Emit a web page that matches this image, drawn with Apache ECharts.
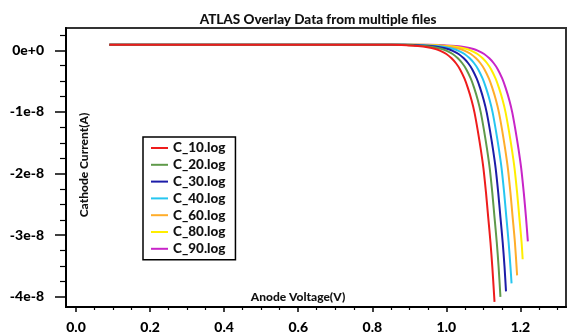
<!DOCTYPE html>
<html>
<head>
<meta charset="utf-8">
<script src="https://cdn.jsdelivr.net/npm/echarts@6/dist/echarts.min.js"></script>
<style>
html,body{margin:0;padding:0;background:#fff;}
#chart{width:568px;height:334px;}
</style>
</head>
<body>
<div id="chart"></div>
<script>
// ---- data: [anode voltage (V), cathode current (units of 1e-8 A)] ----
const seriesNames = ['C_10.log','C_20.log','C_30.log','C_40.log','C_60.log','C_80.log','C_90.log'];
const seriesColors = ['#ee1c1c','#5f9a4a','#1c1ca8','#26c6f0','#ffad2a','#ffee00','#c825c8'];

const c10 = [[0.09,0.09],[0.851,0.089],[0.897,0.08],[0.923,0.07],[0.949,0.05],[0.971,0.02],[0.984,-0.01],[1.000,-0.06],[1.014,-0.13],[1.026,-0.21],[1.037,-0.31],[1.049,-0.46],[1.058,-0.61],[1.068,-0.81],[1.076,-1.01],[1.085,-1.31],[1.093,-1.61],[1.100,-1.91],[1.107,-2.31],[1.113,-2.71],[1.119,-3.11],[1.124,-3.51],[1.130,-4.08]];
const c20 = [[0.09,0.09],[0.868,0.089],[0.914,0.08],[0.940,0.07],[0.966,0.05],[0.988,0.02],[1.001,-0.01],[1.017,-0.06],[1.031,-0.13],[1.043,-0.21],[1.054,-0.31],[1.066,-0.46],[1.075,-0.61],[1.085,-0.81],[1.093,-1.01],[1.102,-1.31],[1.110,-1.61],[1.117,-1.91],[1.124,-2.31],[1.130,-2.71],[1.136,-3.11],[1.141,-3.51],[1.146,-4.00]];
const c30 = [[0.09,0.09],[0.884,0.089],[0.930,0.08],[0.956,0.07],[0.982,0.05],[1.004,0.02],[1.017,-0.01],[1.033,-0.06],[1.047,-0.13],[1.059,-0.21],[1.070,-0.31],[1.082,-0.46],[1.091,-0.61],[1.101,-0.81],[1.109,-1.01],[1.118,-1.31],[1.126,-1.61],[1.133,-1.91],[1.140,-2.31],[1.146,-2.71],[1.152,-3.11],[1.157,-3.51],[1.161,-3.91]];
const c40 = [[0.09,0.09],[0.900,0.089],[0.946,0.08],[0.972,0.07],[0.998,0.05],[1.020,0.02],[1.033,-0.01],[1.049,-0.06],[1.063,-0.13],[1.075,-0.21],[1.086,-0.31],[1.098,-0.46],[1.107,-0.61],[1.117,-0.81],[1.125,-1.01],[1.134,-1.31],[1.142,-1.61],[1.149,-1.91],[1.156,-2.31],[1.162,-2.71],[1.168,-3.11],[1.173,-3.51],[1.176,-3.78]];
const c60 = [[0.09,0.09],[0.917,0.089],[0.963,0.08],[0.989,0.07],[1.015,0.05],[1.037,0.02],[1.050,-0.01],[1.066,-0.06],[1.080,-0.13],[1.092,-0.21],[1.103,-0.31],[1.115,-0.46],[1.124,-0.61],[1.134,-0.81],[1.142,-1.01],[1.151,-1.31],[1.159,-1.61],[1.166,-1.91],[1.173,-2.31],[1.179,-2.71],[1.185,-3.11],[1.191,-3.65]];
const c80 = [[0.09,0.09],[0.935,0.089],[0.981,0.08],[1.007,0.07],[1.033,0.05],[1.055,0.02],[1.068,-0.01],[1.084,-0.06],[1.098,-0.13],[1.110,-0.21],[1.121,-0.31],[1.133,-0.46],[1.142,-0.61],[1.152,-0.81],[1.160,-1.01],[1.169,-1.31],[1.177,-1.61],[1.184,-1.91],[1.191,-2.31],[1.197,-2.71],[1.203,-3.11],[1.206,-3.39]];
const c90 = [[0.09,0.09],[0.953,0.089],[0.999,0.08],[1.025,0.07],[1.051,0.05],[1.073,0.02],[1.086,-0.01],[1.102,-0.06],[1.116,-0.13],[1.128,-0.21],[1.139,-0.31],[1.151,-0.46],[1.160,-0.61],[1.170,-0.81],[1.178,-1.01],[1.187,-1.31],[1.195,-1.61],[1.202,-1.91],[1.209,-2.31],[1.215,-2.71],[1.220,-3.10]];
const seriesData = [c10, c20, c30, c40, c60, c80, c90];

// ---- ticks ----
const xTickValues = [0, 0.2, 0.4, 0.6, 0.8, 1.0, 1.2];
const xTickLabels = ['0.0','0.2','0.4','0.6','0.8','1.0','1.2'];
const xMinorTicks = [0.05,0.1,0.15,0.25,0.3,0.35,0.45,0.5,0.55,0.65,0.7,0.75,0.85,0.9,0.95,1.05,1.1,1.15,1.25,1.3];
const yTickValues = [-4, -3, -2, -1, 0];
const yTickLabels = ['-4e-8','-3e-8','-2e-8','-1e-8','0e+0'];
const yMinorTicks = [-3.75,-3.5,-3.25,-2.75,-2.5,-2.25,-1.75,-1.5,-1.25,-0.75,-0.5,-0.25,0.25];

const titleText = 'ATLAS Overlay Data from multiple files';
const xName = 'Anode Voltage(V)';
const yName = 'Cathode Current(A)';

const FONT = 'Lato';
const W = 900;
const X_MIN = -0.027, X_MAX = 1.323;
const Y_MIN = -4.164, Y_MAX = 0.362;

function pick(vals, labels){
  return function(v){
    const i = vals.findIndex(t => Math.abs(t - v) < 1e-6);
    return i >= 0 ? labels[i] : '';
  };
}

const chart = echarts.init(document.getElementById('chart'), null, {renderer:'canvas'});

const option = {
  animation: false,
  backgroundColor: '#fff',
  title: {
    text: titleText, left: 313, top: 8, textAlign: 'center',
    textStyle: {fontFamily: FONT, fontWeight: W, fontSize: 13.5, color: '#111'}
  },
  grid: {left: 66, right: 2, top: 28, bottom: 22, show: true, borderColor: '#333', borderWidth: 2, backgroundColor: 'transparent'},
  legend: {
    orient: 'vertical', left: 143, top: 137,
    padding: [4, 10, 4, 8], itemGap: 2.8, itemWidth: 17, itemHeight: 2, icon: 'rect',
    borderColor: '#000', borderWidth: 1.5, backgroundColor: '#fff',
    textStyle: {fontFamily: FONT, fontWeight: W, fontSize: 13.5, color: '#111', lineHeight: 14},
    data: seriesNames
  },
  xAxis: [
    {
      type: 'value', min: X_MIN, max: X_MAX, position: 'bottom',
      axisLine: {show: true, onZero: false, lineStyle: {color: '#000', width: 2}},
      axisTick: {show: true, length: 5, customValues: xTickValues, lineStyle: {color: '#000', width: 1.5}},
      axisLabel: {customValues: xTickValues, formatter: pick(xTickValues, xTickLabels), margin: 13,
        fontFamily: FONT, fontWeight: W, fontSize: 14, color: '#000'},
      splitLine: {show: false}
    },
    {
      type: 'value', min: X_MIN, max: X_MAX, position: 'bottom',
      axisLine: {show: false, onZero: false},
      axisTick: {show: true, length: 3, customValues: xMinorTicks, lineStyle: {color: '#000', width: 1.2}},
      axisLabel: {show: false},
      splitLine: {show: false}
    }
  ],
  yAxis: [
    {
      type: 'value', min: Y_MIN, max: Y_MAX, position: 'left',
      axisLine: {show: true, onZero: false, lineStyle: {color: '#000', width: 2}},
      axisTick: {show: true, length: 11, customValues: yTickValues, lineStyle: {color: '#000', width: 1.5}},
      axisLabel: {customValues: yTickValues, formatter: pick(yTickValues, yTickLabels), margin: 22,
        fontFamily: FONT, fontWeight: W, fontSize: 14, color: '#000'},
      splitLine: {show: false}
    },
    {
      type: 'value', min: Y_MIN, max: Y_MAX, position: 'left',
      axisLine: {show: false, onZero: false},
      axisTick: {show: true, length: 6, customValues: yMinorTicks, lineStyle: {color: '#000', width: 1.2}},
      axisLabel: {show: false},
      splitLine: {show: false}
    }
  ],
  graphic: [
    {type: 'text', x: 298, y: 297, z: 100,
      style: {text: xName, x: 0, y: 0, align: 'center', verticalAlign: 'middle', textAlign: 'center', textVerticalAlign: 'middle',
        font: W + ' 12px ' + FONT, fill: '#111'}},
    {type: 'text', x: 84, y: 165, rotation: Math.PI / 2, z: 100,
      style: {text: yName, x: 0, y: 0, align: 'center', verticalAlign: 'middle', textAlign: 'center', textVerticalAlign: 'middle',
        font: W + ' 12px ' + FONT, fill: '#111'}}
  ],
  series: seriesNames.map((name, i) => ({
    name: name,
    type: 'line',
    xAxisIndex: 0, yAxisIndex: 0,
    data: seriesData[i],
    showSymbol: false, symbol: 'none',
    smooth: 0.3,
    z: 10 - i,
    lineStyle: {color: seriesColors[i], width: 2},
    itemStyle: {color: seriesColors[i]}
  }))
};
chart.setOption(option);
</script>
</body>
</html>
